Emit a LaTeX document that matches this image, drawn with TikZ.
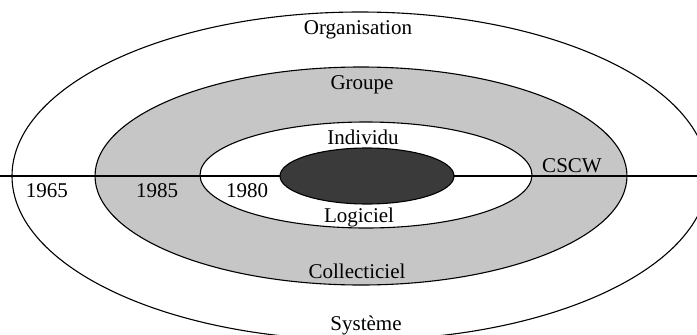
\documentclass[tikz,border=0pt]{standalone}
\usepackage{fontspec}
\setmainfont{Liberation Serif}
\usepackage{tikz}

\definecolor{softgray}{HTML}{C6C6C6}
\definecolor{inkgray}{HTML}{3A3A3A}

\begin{document}
\begin{tikzpicture}[x=1pt,y=-1pt]

	\tikzset{lbl/.style={anchor=base,inner sep=0pt,font=\fontsize{21}{25}\selectfont}}
	\tikzset{ring/.style={line width=1.1pt}}

	\useasboundingbox (0,0) rectangle (697,335);

	\draw[ring,fill=white] (360,176) ellipse [x radius=348pt, y radius=164pt];
	\draw[ring,fill=softgray] (361,176) ellipse [x radius=266pt, y radius=109pt];
	\draw[ring,fill=white] (366,175) ellipse [x radius=166pt, y radius=53pt];

	\coordinate (west) at (0,176);
	\coordinate (east) at (697,176);
	\draw[ring] (west) -- (east);

	\draw[ring,fill=inkgray] (367,176) ellipse [x radius=87pt, y radius=28pt];

	\node[lbl] (orga) at (358,34) {Organisation};
	\node[lbl] (groupe) at (362,89) {Groupe};
	\node[lbl] (individu) at (363,144) {Individu};
	\node[lbl] (logiciel) at (359,222) {Logiciel};
	\node[lbl] (collect) at (357,278) {Collecticiel};
	\node[lbl,fill=white,inner sep=1pt] (systeme) at (366,330) {Système};

	\node[lbl] (y1965) at (47,197) {1965};
	\node[lbl] (y1985) at (157,197) {1985};
	\node[lbl] (y1980) at (247,197) {1980};
	\node[lbl] (cscw) at (572,172) {CSCW};

\end{tikzpicture}
\end{document}
